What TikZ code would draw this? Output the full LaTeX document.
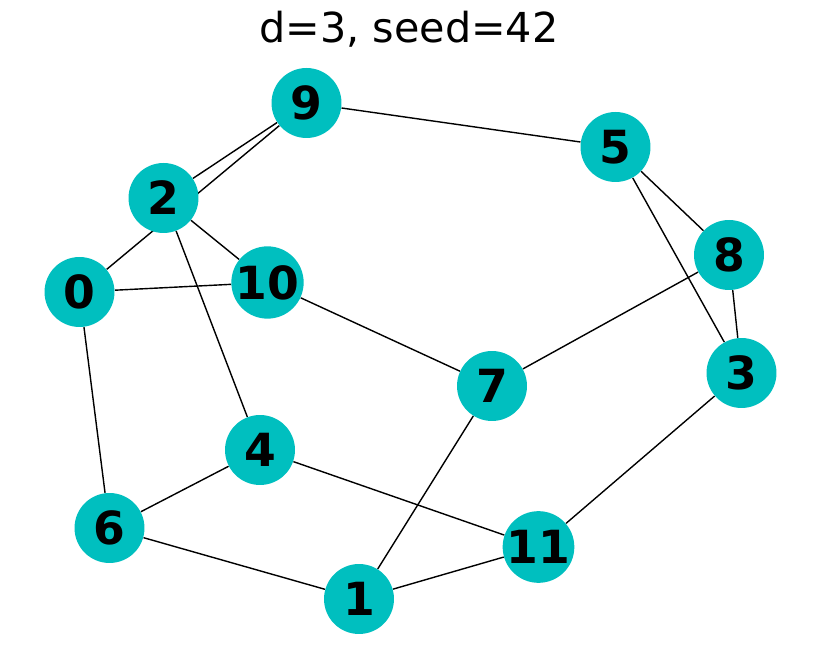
\documentclass[tikz,border=0pt]{standalone}
\usepackage{fontspec}
\setmainfont{DejaVu Sans}
\usepackage{tikz}
\usetikzlibrary{backgrounds}

\definecolor{nodecyan}{RGB}{0,191,191}

\begin{document}
\begin{tikzpicture}[x=0.02cm, y=-0.02cm,
  vert/.style={circle, fill=nodecyan, minimum size=1.4cm, inner sep=0pt,
    font=\fontsize{26}{30}\selectfont\bfseries},
  edge/.style={black, line width=0.8pt}]
\useasboundingbox (0,0) rectangle (819,661);
\node [anchor=base, font=\fontsize{23.5}{28}\selectfont] (title) at (409,43) {d=3, seed=42};

\node [vert] (v0) at (79.5,292) {0};
\node [vert] (v1) at (359,599) {1};
\node [vert] (v2) at (163.5,198) {2};
\node [vert] (v3) at (741.5,373) {3};
\node [vert] (v4) at (260,450) {4};
\node [vert] (v5) at (615.5,147) {5};
\node [vert] (v6) at (109.5,528) {6};
\node [vert] (v7) at (492,386) {7};
\node [vert] (v8) at (729,255) {8};
\node [vert] (v9) at (306.5,103) {9};
\node [vert] (v10) at (267.5,282.5) {10};
\node [vert] (v11) at (538.5,547) {11};

% edges under the nodes
\begin{scope}[on background layer]
\draw [edge] (v9) -- (v5);
\draw [edge] (v9) -- (v2);
\draw [edge] (v9) -- (v0);
\draw [edge] (v2) -- (v10);
\draw [edge] (v2) -- (v4);
\draw [edge] (v0) -- (v10);
\draw [edge] (v0) -- (v6);
\draw [edge] (v10) -- (v7);
\draw [edge] (v5) -- (v8);
\draw [edge] (v5) -- (v3);
\draw [edge] (v8) -- (v3);
\draw [edge] (v8) -- (v7);
\draw [edge] (v7) -- (v1);
\draw [edge] (v3) -- (v11);
\draw [edge] (v4) -- (v6);
\draw [edge] (v4) -- (v11);
\draw [edge] (v6) -- (v1);
\draw [edge] (v1) -- (v11);
\end{scope}
\end{tikzpicture}
\end{document}
